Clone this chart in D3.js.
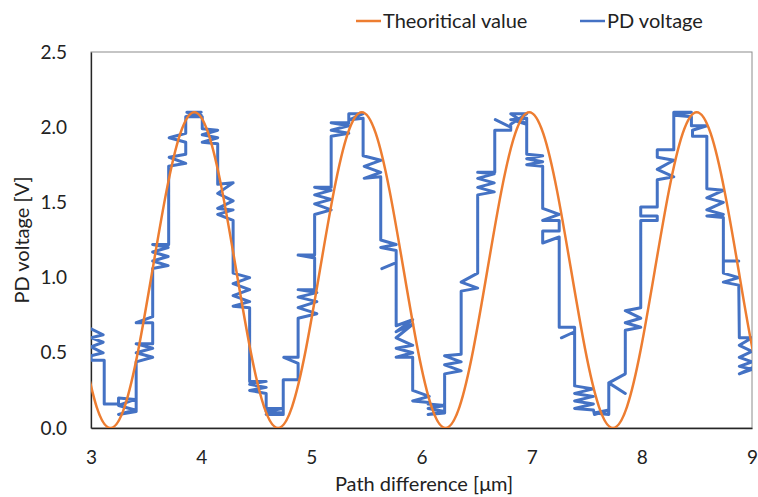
<!DOCTYPE html>
<html>
<head>
<meta charset="utf-8">
<script src="https://cdn.jsdelivr.net/npm/d3@7"></script>
<style>
  body { margin: 0; background: #fff; }
  text { font-family: Lato, "Open Sans", sans-serif; fill: #222; }
</style>
</head>
<body>
<div id="chart"></div>
<script>
// Theoretical curve, read at peaks / troughs / 30 degree steps
const theoryX = [2.925, 3.051, 3.178, 3.305, 3.431, 3.558, 3.685, 3.811, 3.938, 4.065, 4.191, 4.318,
  4.445, 4.571, 4.698, 4.825, 4.951, 5.078, 5.205, 5.331, 5.458, 5.585, 5.711, 5.838,
  5.965, 6.091, 6.218, 6.345, 6.471, 6.598, 6.725, 6.851, 6.978, 7.105, 7.231, 7.358,
  7.485, 7.611, 7.738, 7.865, 7.991, 8.118, 8.245, 8.371, 8.498, 8.625, 8.751, 8.878,
  9.005, 9.131];
const theoryY = [0.525, 0.141, 0, 0.141, 0.525, 1.05, 1.575, 1.959, 2.10, 1.959, 1.575, 1.05,
  0.525, 0.141, 0, 0.141, 0.525, 1.05, 1.575, 1.959, 2.10, 1.959, 1.575, 1.05,
  0.525, 0.141, 0, 0.141, 0.525, 1.05, 1.575, 1.959, 2.10, 1.959, 1.575, 1.05,
  0.525, 0.141, 0, 0.141, 0.525, 1.05, 1.575, 1.959, 2.10, 1.959, 1.575, 1.05,
  0.525, 0.141];

// PD voltage measurement (path order)
const pdX = [
  3.00, 3.11, 3.00, 3.11, 3.00, 3.11, 3.00, 3.00, 3.12, 3.12,
  3.25, 3.25, 3.40, 3.25, 3.40, 3.25, 3.41,
  3.41, 3.56, 3.41, 3.56, 3.41, 3.56, 3.56, 3.41, 3.56,
  3.56, 3.70, 3.56, 3.70, 3.56, 3.70, 3.56, 3.705,
  3.705, 3.86, 3.71, 3.86, 3.86, 3.71, 3.86,
  3.86, 4.00, 3.87, 4.00, 3.87, 4.01,
  4.01, 4.15, 4.01, 4.15, 4.01, 4.15,
  4.15, 4.29, 4.15, 4.29, 4.15, 4.29, 4.15, 4.29,
  4.29, 4.44, 4.29, 4.44, 4.29, 4.44, 4.29, 4.44,
  4.44, 4.59, 4.44, 4.59, 4.44, 4.59,
  4.59, 4.74, 4.59, 4.74, 4.59, 4.745,
  4.745, 4.88, 4.88, 4.75, 4.88,
  4.88, 5.05, 4.88, 5.05, 4.88, 5.05, 4.88, 5.03, 5.03, 4.88, 5.03,
  5.03, 5.18, 5.03, 5.18, 5.03, 5.18, 5.03, 5.18,
  5.18, 5.34, 5.18, 5.34, 5.18, 5.34,
  5.34, 5.47, 5.35, 5.47,
  5.47, 5.63, 5.48, 5.63, 5.48, 5.63,
  5.63, 5.77, 5.63, 5.77, 5.77, 5.64, 5.77,
  5.77, 5.92, 5.77, 5.92, 5.77, 5.92, 5.77, 5.92, 5.77, 5.92,
  5.92, 6.07, 5.92, 6.07,
  6.06, 6.21, 6.06, 6.21, 6.06, 6.21,
  6.21, 6.36, 6.21, 6.36, 6.21, 6.36,
  6.36, 6.51, 6.36, 6.51,
  6.51, 6.66, 6.51, 6.66, 6.51, 6.66, 6.51, 6.665,
  6.665, 6.81, 6.81, 6.67, 6.81,
  6.81, 6.955, 6.81, 6.955, 6.81, 6.955,
  6.955, 7.10, 6.955, 7.10, 6.955, 7.10,
  7.10, 7.25, 7.10, 7.25, 7.25, 7.10, 7.10, 7.25,
  7.25, 7.39, 7.39, 7.27, 7.39,
  7.39, 7.56, 7.39, 7.56, 7.39, 7.56, 7.39, 7.56,
  7.57, 7.70, 7.57, 7.70,
  7.70, 7.85, 7.70, 7.85,
  7.85, 7.99, 7.85, 7.99, 7.85, 7.99,
  7.99, 8.14, 8.14, 7.99, 7.99, 8.14,
  8.14, 8.29, 8.14, 8.29, 8.14, 8.14, 8.29,
  8.29, 8.45, 8.30, 8.45,
  8.45, 8.59, 8.46, 8.46, 8.59,
  8.59, 8.74, 8.59, 8.74, 8.59, 8.74, 8.59, 8.74,
  8.74, 8.88, 8.74, 8.74, 8.88, 8.74, 8.88,
  8.885, 9.00, 8.885, 9.00, 8.885, 9.00, 8.885, 9.00, 8.885, 9.00
];
const pdY = [
  0.66, 0.62, 0.60, 0.57, 0.54, 0.50, 0.48, 0.45, 0.45, 0.16,
  0.16, 0.20, 0.19, 0.15, 0.12, 0.09, 0.11,
  0.44, 0.47, 0.50, 0.53, 0.56, 0.56, 0.70, 0.70, 0.74,
  1.06, 1.08, 1.11, 1.14, 1.17, 1.20, 1.22, 1.22,
  1.74, 1.76, 1.80, 1.82, 1.90, 1.93, 1.96,
  2.07, 2.10, 2.10, 2.08, 2.07, 2.07,
  1.99, 1.98, 1.95, 1.93, 1.90, 1.89,
  1.62, 1.63, 1.56, 1.51, 1.46, 1.45, 1.42, 1.38,
  1.03, 1.00, 0.96, 0.92, 0.88, 0.84, 0.81, 0.80,
  0.31, 0.31, 0.29, 0.27, 0.25, 0.23,
  0.13, 0.13, 0.11, 0.10, 0.09, 0.09,
  0.32, 0.32, 0.43, 0.47, 0.47,
  0.73, 0.76, 0.80, 0.84, 0.87, 0.90, 0.92, 0.92, 1.13, 1.15, 1.15,
  1.42, 1.45, 1.49, 1.52, 1.55, 1.58, 1.60, 1.60,
  1.94, 1.96, 1.98, 2.01, 2.03, 2.03,
  2.09, 2.09, 2.05, 2.06,
  1.81, 1.78, 1.74, 1.70, 1.66, 1.67,
  1.25, 1.22, 1.20, 1.18, 1.10, 1.06, 1.10,
  0.68, 0.72, 0.64, 0.69, 0.60, 0.55, 0.53, 0.50, 0.47, 0.47,
  0.25, 0.21, 0.18, 0.17,
  0.16, 0.15, 0.13, 0.11, 0.09, 0.10,
  0.36, 0.38, 0.42, 0.44, 0.48, 0.49,
  0.91, 0.93, 0.97, 1.03,
  1.55, 1.57, 1.60, 1.63, 1.66, 1.69, 1.70, 1.70,
  1.98, 1.98, 2.00, 2.05, 2.00,
  2.02, 2.09, 2.09, 2.02, 2.05, 2.06,
  1.82, 1.81, 1.79, 1.77, 1.75, 1.74,
  1.46, 1.42, 1.38, 1.38, 1.31, 1.31, 1.23, 1.27,
  0.67, 0.67, 0.64, 0.60, 0.64,
  0.28, 0.26, 0.23, 0.21, 0.18, 0.16, 0.13, 0.12,
  0.09, 0.12, 0.10, 0.09,
  0.30, 0.23, 0.30, 0.36,
  0.65, 0.67, 0.70, 0.73, 0.78, 0.80,
  1.38, 1.38, 1.41, 1.41, 1.47, 1.47,
  1.65, 1.67, 1.72, 1.78, 1.80, 1.85, 1.85,
  2.10, 2.10, 2.08, 2.07,
  2.01, 2.01, 1.98, 1.94, 1.94,
  1.59, 1.58, 1.53, 1.50, 1.45, 1.42, 1.41, 1.40,
  1.11, 1.11, 1.11, 1.03, 1.00, 0.97, 0.95,
  0.60, 0.60, 0.55, 0.51, 0.47, 0.44, 0.41, 0.39, 0.36, 0.40
];

const xTicks = [3, 4, 5, 6, 7, 8, 9];
const yTicks = [0, 0.5, 1, 1.5, 2, 2.5];

const width = 758;
const height = 497;
const margin = { top: 52, right: 6, bottom: 69, left: 91 };

const svg = d3.select("#chart")
    .append("svg")
    .attr("width", width)
    .attr("height", height);

const xScale = d3.scaleLinear()
    .domain([3, 9])
    .range([margin.left, width - margin.right]);

const yScale = d3.scaleLinear()
    .domain([0, 2.5])
    .range([height - margin.bottom, margin.top]);

svg.append("clipPath")
    .attr("id", "plot-clip")
    .append("rect")
    .attr("x", margin.left)
    .attr("y", margin.top - 4)
    .attr("width", width - margin.left - margin.right)
    .attr("height", height - margin.top - margin.bottom + 4);

// plot area frame (top / right grey)
svg.append("rect")
    .attr("x", margin.left)
    .attr("y", margin.top)
    .attr("width", width - margin.left - margin.right)
    .attr("height", height - margin.top - margin.bottom)
    .attr("fill", "none")
    .attr("stroke", "#8c8c8c")
    .attr("stroke-width", 1);

const xAxis = d3.axisBottom(xScale).tickValues(xTicks).tickSize(0).tickPadding(23).tickFormat(d3.format("d"));
const yAxis = d3.axisLeft(yScale).tickValues(yTicks).tickSize(0).tickPadding(24).tickFormat(d3.format(".1f"));

svg.append("g")
    .attr("class", "x-axis")
    .attr("transform", `translate(0,${height - margin.bottom})`)
    .call(xAxis);

svg.append("g")
    .attr("class", "y-axis")
    .attr("transform", `translate(${margin.left},0)`)
    .call(yAxis);

svg.selectAll(".x-axis path, .y-axis path")
    .attr("stroke", "#262626")
    .attr("stroke-width", 1.3);

svg.selectAll(".x-axis text, .y-axis text")
    .style("font-size", "19px")
    .style("font-family", "Lato, 'Open Sans', sans-serif")
    .attr("fill", "#222");

svg.selectAll(".x-axis text").attr("dy", "0.68em");

// axis titles
svg.append("text")
    .attr("x", 424)
    .attr("y", 491)
    .attr("text-anchor", "middle")
    .style("font-size", "20px")
    .text("Path difference [μm]");

svg.append("text")
    .attr("transform", `translate(29,${(margin.top + height - margin.bottom) / 2}) rotate(-90)`)
    .attr("text-anchor", "middle")
    .style("font-size", "20px")
    .text("PD voltage [V]");

const plot = svg.append("g").attr("clip-path", "url(#plot-clip)");

const pdLine = d3.line()
    .x((d, i) => xScale(pdX[i]))
    .y((d, i) => yScale(pdY[i]));

plot.append("path")
    .datum(pdX)
    .attr("d", pdLine)
    .attr("fill", "none")
    .attr("stroke", "#4472C4")
    .attr("stroke-width", 3)
    .attr("stroke-linejoin", "round")
    .attr("stroke-linecap", "round");

const theoryLine = d3.line()
    .x((d, i) => xScale(theoryX[i]))
    .y((d, i) => yScale(theoryY[i]))
    .curve(d3.curveNatural);

plot.append("path")
    .datum(theoryX)
    .attr("d", theoryLine)
    .attr("fill", "none")
    .attr("stroke", "#ED7D31")
    .attr("stroke-width", 2.5);

// legend
const legend = [
    { name: "Theoritical value", color: "#ED7D31", x: 356 },
    { name: "PD voltage", color: "#4472C4", x: 580 }
];

const lg = svg.selectAll(".legend")
    .data(legend)
    .enter()
    .append("g")
    .attr("class", "legend")
    .attr("transform", d => `translate(${d.x},21)`);

lg.append("line")
    .attr("x1", 0)
    .attr("x2", 25)
    .attr("stroke", d => d.color)
    .attr("stroke-width", 2.5);

lg.append("text")
    .attr("x", 27)
    .attr("dy", "0.35em")
    .style("font-size", "20px")
    .text(d => d.name);
</script>
</body>
</html>
